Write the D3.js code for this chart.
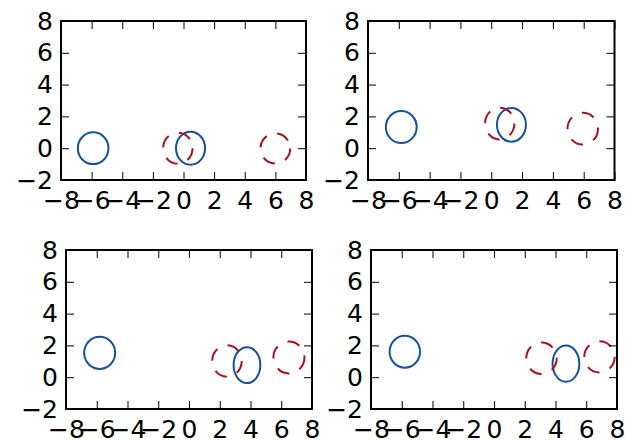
<!DOCTYPE html>
<html>
<head>
<meta charset="utf-8">
<script src="https://cdn.jsdelivr.net/npm/d3@7"></script>
<style>
  html, body { margin: 0; padding: 0; background: #fff; }
  svg { display: block; }
  text { font-family: "DejaVu Sans", sans-serif; }
</style>
</head>
<body>
<svg id="chart" width="640" height="440"></svg>
<script>
// ---- data ----
const xTicks = [-8, -6, -4, -2, 0, 2, 4, 6, 8];
const yTicks = [-2, 0, 2, 4, 6, 8];
const xDomain = [-8, 8];
const yDomain = [-2, 8];

// ellipses per panel: [centerX, centerY, radiusX, radiusY] in data units
const solidPanel1 = [[-5.9, 0.0, 1.0, 1.0], [0.46, 0.0, 0.95, 1.04]];
const dashedPanel1 = [[-0.37, 0.0, 0.96, 0.98], [6.0, -0.02, 0.97, 0.95]];
const solidPanel2 = [[-5.84, 1.33, 1.0, 1.01], [1.31, 1.47, 0.94, 1.06]];
const dashedPanel2 = [[0.55, 1.55, 0.95, 1.0], [5.94, 1.23, 0.99, 1.0]];
const solidPanel3 = [[-5.81, 1.53, 1.01, 1.01], [3.77, 0.76, 0.87, 1.13]];
const dashedPanel3 = [[2.47, 1.02, 0.96, 0.99], [6.5, 1.24, 1.01, 1.0]];
const solidPanel4 = [[-5.8, 1.6, 0.99, 1.0], [4.68, 0.85, 0.87, 1.14]];
const dashedPanel4 = [[3.09, 1.19, 0.99, 0.99], [6.86, 1.28, 0.99, 0.98]];

const solidSeries = [solidPanel1, solidPanel2, solidPanel3, solidPanel4];
const dashedSeries = [dashedPanel1, dashedPanel2, dashedPanel3, dashedPanel4];

// ---- layout ----
const panels = [
  { x0: 61, x1: 306, y0: 21, y1: 180 },
  { x0: 368, x1: 614.5, y0: 21, y1: 180 },
  { x0: 66, x1: 312, y0: 250, y1: 409 },
  { x0: 371, x1: 617, y0: 250, y1: 409 }
];
const solidColor = "#1650a0";
const dashedColor = "#a8121c";
const fontSize = 25;
const tickLen = 8;

const svg = d3.select("#chart");
const fmt = d => (d < 0 ? "\u2212" + Math.abs(d) : String(d));

panels.forEach((p, i) => {
  const x = d3.scaleLinear().domain(xDomain).range([p.x0, p.x1]);
  const y = d3.scaleLinear().domain(yDomain).range([p.y1, p.y0]);
  const g = svg.append("g");

  const clipId = "clip" + i;
  g.append("clipPath").attr("id", clipId)
    .append("rect")
    .attr("x", p.x0).attr("y", p.y0)
    .attr("width", p.x1 - p.x0).attr("height", p.y1 - p.y0);

  const marks = g.append("g").attr("clip-path", `url(#${clipId})`);

  const drawEllipses = (data, color, dash) => {
    marks.selectAll(null).data(data).enter().append("ellipse")
      .attr("cx", d => x(d[0]))
      .attr("cy", d => y(d[1]))
      .attr("rx", d => x(d[2]) - x(0))
      .attr("ry", d => y(0) - y(d[3]))
      .attr("fill", "none")
      .attr("stroke", color)
      .attr("stroke-width", 2)
      .attr("stroke-dasharray", dash);
  };
  drawEllipses(solidSeries[i], solidColor, null);
  drawEllipses(dashedSeries[i], dashedColor, "13,11");

  // axes
  const styleAxis = (sel, labels) => {
    sel.select(".domain").remove();
    sel.selectAll(".tick line").attr("stroke", "#000").attr("stroke-width", 1);
    sel.selectAll(".tick text")
      .attr("fill", labels ? "#000" : "none")
      .style("font-size", fontSize + "px")
      .style("font-family", "'DejaVu Sans', sans-serif");
    if (!labels) sel.selectAll(".tick text").remove();
  };

  g.append("g").attr("transform", `translate(0,${p.y1})`)
    .call(d3.axisBottom(x).tickValues(xTicks).tickFormat(fmt)
      .tickSizeInner(-tickLen).tickSizeOuter(0).tickPadding(11.5))
    .call(s => styleAxis(s, true));
  g.append("g").attr("transform", `translate(0,${p.y0})`)
    .call(d3.axisTop(x).tickValues(xTicks).tickSizeInner(-tickLen).tickSizeOuter(0))
    .call(s => styleAxis(s, false));
  g.append("g").attr("transform", `translate(${p.x0},0)`)
    .call(d3.axisLeft(y).tickValues(yTicks).tickFormat(fmt)
      .tickSizeInner(-tickLen).tickSizeOuter(0).tickPadding(8))
    .call(s => styleAxis(s, true));
  g.append("g").attr("transform", `translate(${p.x1},0)`)
    .call(d3.axisRight(y).tickValues(yTicks).tickSizeInner(-tickLen).tickSizeOuter(0))
    .call(s => styleAxis(s, false));

  g.append("rect")
    .attr("x", p.x0).attr("y", p.y0)
    .attr("width", p.x1 - p.x0).attr("height", p.y1 - p.y0)
    .attr("fill", "none").attr("stroke", "#000").attr("stroke-width", 2);
});
</script>
</body>
</html>
